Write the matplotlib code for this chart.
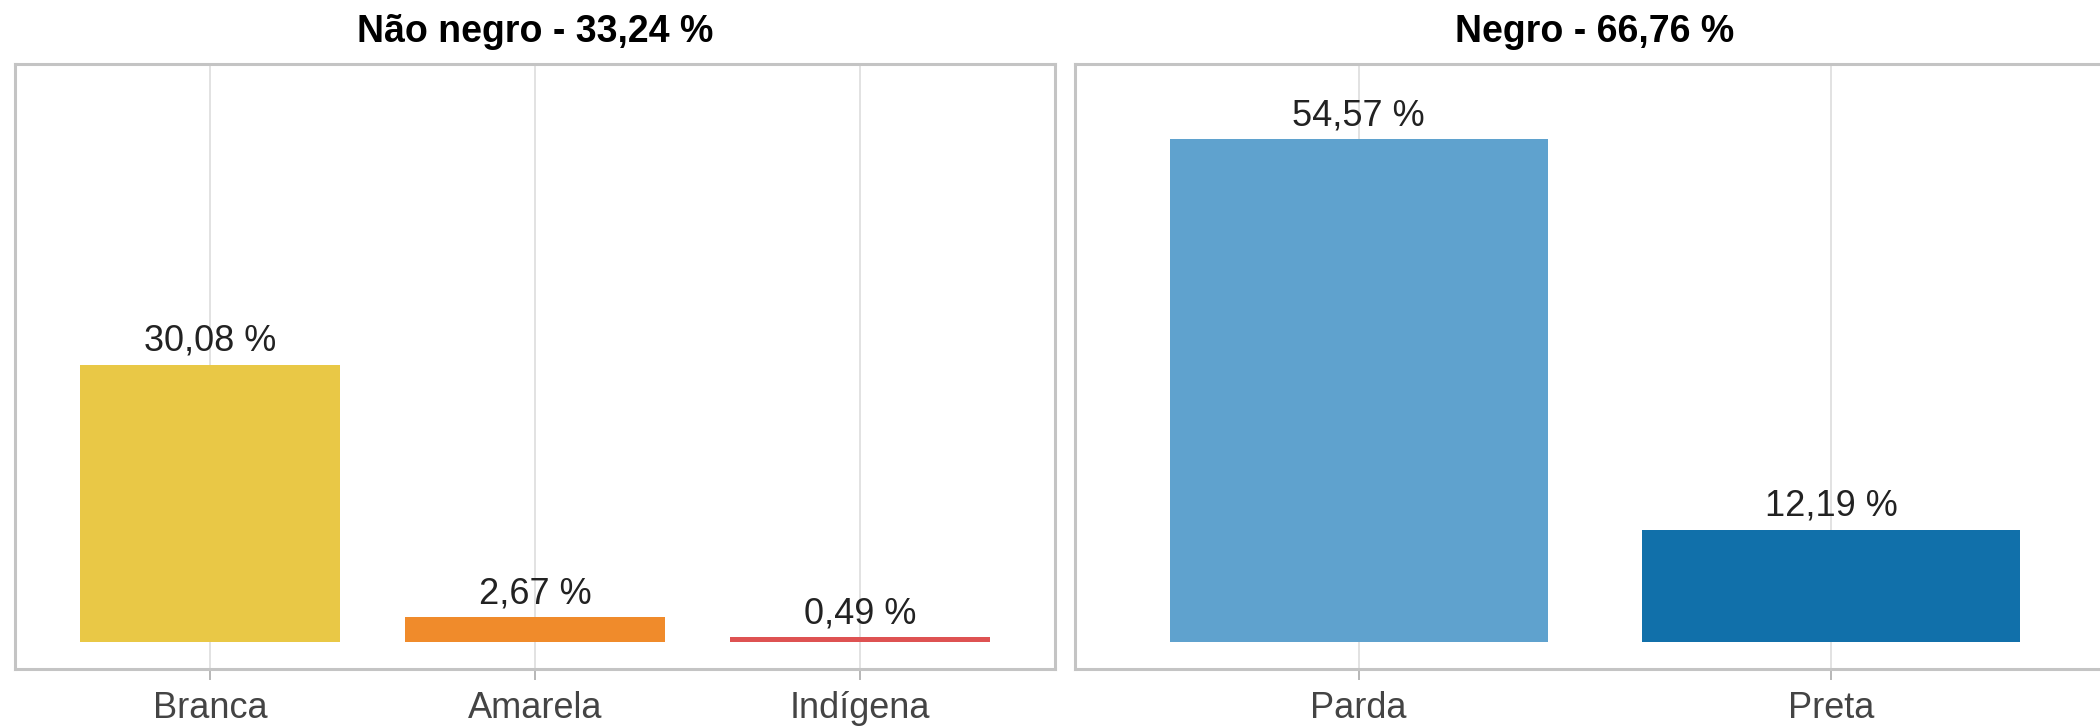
import matplotlib.pyplot as plt

plt.rcParams['font.family'] = ['Liberation Sans', 'DejaVu Sans']

# dados
grupos = ['Não negro - 33,24 %', 'Negro - 66,76 %']
cat_nao_negro = ['Branca', 'Amarela', 'Indígena']
val_nao_negro = [30.08, 2.67, 0.49]
cat_negro = ['Parda', 'Preta']
val_negro = [54.57, 12.19]

cores_nao_negro = ['#e9c846', '#f08b2b', '#de5252']
cores_negro = ['#5fa2ce', '#1170aa']


def fmt(v):
    return ('%.2f %%' % v).replace('.', ',')


def painel(ax, cats, vals, cores, titulo):
    x = list(range(len(cats)))
    ax.bar(x, vals, width=0.8, color=cores, zorder=2)
    for xi, v in zip(x, vals):
        ax.annotate(fmt(v), (xi, v), xytext=(0, 10), textcoords='offset points',
                    ha='center', va='baseline', fontsize=26, color='#222222')
    ax.set_xlim(-0.6, len(cats) - 0.4)
    ax.set_ylim(-2.93, 62.7)
    ax.set_xticks(x)
    ax.set_xticklabels(cats, fontsize=26, color='#444444')
    ax.set_yticks([])
    ax.grid(axis='x', color='#e2e2e2', linewidth=1.4, zorder=0)
    ax.tick_params(axis='x', length=8, width=1.2, color='#aaaaaa', pad=8)
    for s in ax.spines.values():
        s.set_color('#c4c4c4')
        s.set_linewidth(2.2)
    ax.set_title(titulo, fontsize=27, fontweight='bold', pad=16)


fig = plt.figure(figsize=(21, 7.27), dpi=100)
ax1 = fig.add_axes([15 / 2100, 58 / 727, 1040 / 2100, 605 / 727])
ax2 = fig.add_axes([1075 / 2100, 58 / 727, 1040 / 2100, 605 / 727])

painel(ax1, cat_nao_negro, val_nao_negro, cores_nao_negro, grupos[0])
painel(ax2, cat_negro, val_negro, cores_negro, grupos[1])

fig.savefig('out.png', dpi=100)
